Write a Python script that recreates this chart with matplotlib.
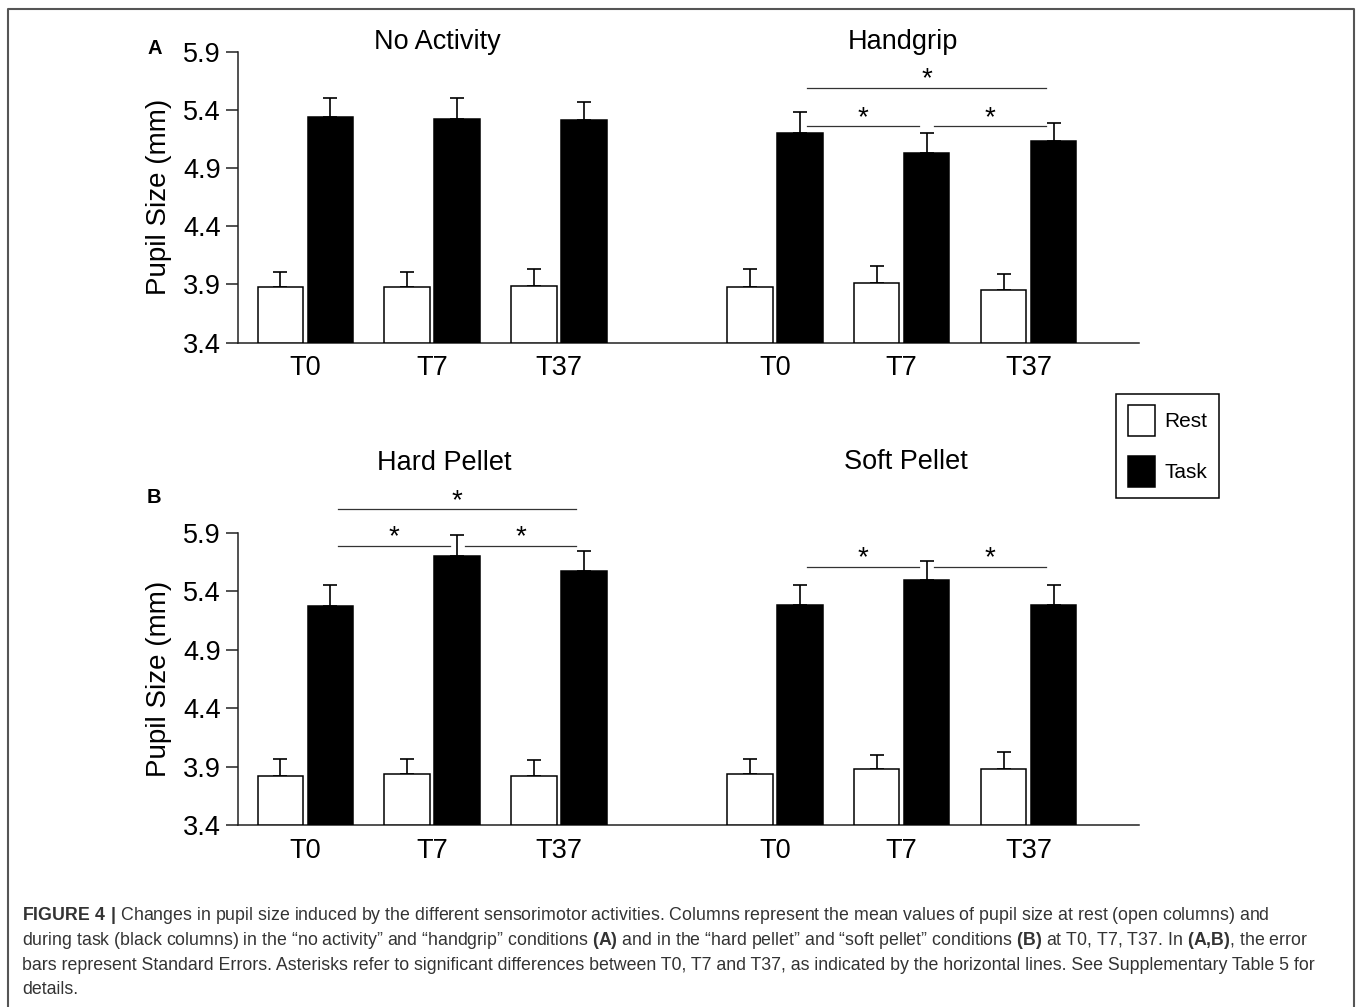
import numpy as np
import matplotlib
matplotlib.use('Agg')
from matplotlib import pyplot as plt
from matplotlib.patches import Patch
from matplotlib.lines import Line2D
from matplotlib.font_manager import FontProperties

plt.rcParams['font.family'] = ['Liberation Sans', 'DejaVu Sans']
plt.rcParams['mathtext.fontset'] = 'custom'
plt.rcParams['mathtext.rm'] = 'Liberation Sans'
plt.rcParams['mathtext.bf'] = 'Liberation Sans:bold'

times = ['T0', 'T7', 'T37']
yticks = [3.4, 3.9, 4.4, 4.9, 5.4, 5.9]

# panel A
noact_rest = [3.88, 3.88, 3.89]
noact_rest_se = [0.13, 0.13, 0.14]
noact_task = [5.34, 5.32, 5.31]
noact_task_se = [0.16, 0.18, 0.16]
hand_rest = [3.88, 3.91, 3.85]
hand_rest_se = [0.15, 0.15, 0.14]
hand_task = [5.20, 5.03, 5.13]
hand_task_se = [0.18, 0.17, 0.16]

# panel B
hard_rest = [3.82, 3.84, 3.82]
hard_rest_se = [0.15, 0.13, 0.14]
hard_task = [5.27, 5.70, 5.57]
hard_task_se = [0.18, 0.18, 0.17]
soft_rest = [3.84, 3.88, 3.88]
soft_rest_se = [0.13, 0.12, 0.15]
soft_task = [5.28, 5.50, 5.28]
soft_task_se = [0.17, 0.16, 0.17]

# significant differences: (from time, to time, line height)
hand_sig = [(0, 2, 5.59), (0, 1, 5.26), (1, 2, 5.26)]
hard_sig = [(0, 2, 6.10), (0, 1, 5.79), (1, 2, 5.79)]
soft_sig = [(0, 1, 5.61), (1, 2, 5.61)]

caption = [
    r'$\bf{FIGURE\ 4\ |}$ Changes in pupil size induced by the different sensorimotor activities. Columns represent the mean values of pupil size at rest (open columns) and',
    r'during task (black columns) in the “no activity” and “handgrip” conditions $\bf{(A)}$ and in the “hard pellet” and “soft pellet” conditions $\bf{(B)}$ at T0, T7, T37. In $\bf{(A{,}B)}$, the error',
    r'bars represent Standard Errors. Asterisks refer to significant differences between T0, T7 and T37, as indicated by the horizontal lines. See Supplementary Table 5 for',
    r'details.',
]

W, H = 1357, 1007
fig = plt.figure(figsize=(W / 100, H / 100), dpi=100)

bw = 0.358
off = 0.197
bases = [0.0, 3.7]


def draw_group(ax, base, rest, rest_se, task, task_se):
    x = np.arange(3) + base
    ax.errorbar(x - off, rest, yerr=[np.zeros(3), rest_se], fmt='none', ecolor='black',
                elinewidth=1.2, capsize=4.8, capthick=1.2, zorder=2)
    ax.errorbar(x + off, task, yerr=[np.zeros(3), task_se], fmt='none', ecolor='black',
                elinewidth=1.2, capsize=4.8, capthick=1.2, zorder=2)
    ax.bar(x - off, np.array(rest) - 3.4, bottom=3.4, width=bw, color='white',
           edgecolor='black', lw=1.1, zorder=3)
    ax.bar(x + off, np.array(task) - 3.4, bottom=3.4, width=bw, color='black',
           edgecolor='black', lw=1.1, zorder=3)


def draw_sig(ax, base, sigs):
    for i, j, h in sigs:
        x0 = base + i + off + 0.06
        x1 = base + j + off - 0.06
        ax.plot([x0, x1], [h, h], color='#333333', lw=0.9, clip_on=False)
        ax.text((x0 + x1) / 2, h + 0.012, '*', ha='center', va='baseline',
                fontsize=20, clip_on=False)


def setup(ax):
    ax.set_xlim(-0.53, 6.57)
    ax.set_ylim(3.4, 5.9)
    ax.set_yticks(yticks)
    ax.set_yticklabels(['%.1f' % t for t in yticks])
    ax.set_xticks(list(np.arange(3) + bases[0]) + list(np.arange(3) + bases[1]))
    ax.set_xticklabels(times + times)
    for s in ['top', 'right']:
        ax.spines[s].set_visible(False)
    for s in ['left', 'bottom']:
        ax.spines[s].set_linewidth(1.1)
        ax.spines[s].set_color('#222222')
    ax.tick_params(axis='y', length=8.6, width=1.1, pad=4, labelsize=19.5, color='#222222')
    ax.tick_params(axis='x', length=0, pad=9, labelsize=19.5)
    ax.set_ylabel('Pupil Size (mm)', fontsize=20)
    ax.yaxis.set_label_coords(-0.073, 0.5)


axA = fig.add_axes([238 / W, 1 - 342.7 / H, 901 / W, 291 / H])
axB = fig.add_axes([238 / W, 1 - 825.3 / H, 901 / W, 292.6 / H])

draw_group(axA, bases[0], noact_rest, noact_rest_se, noact_task, noact_task_se)
draw_group(axA, bases[1], hand_rest, hand_rest_se, hand_task, hand_task_se)
draw_sig(axA, bases[1], hand_sig)
setup(axA)
axA.text(1.045, 1.034, 'No Activity', transform=axA.get_xaxis_transform(),
         ha='center', va='center', fontsize=19.5)
axA.text(4.706, 1.034, 'Handgrip', transform=axA.get_xaxis_transform(),
         ha='center', va='center', fontsize=19.5)

draw_group(axB, bases[0], hard_rest, hard_rest_se, hard_task, hard_task_se)
draw_group(axB, bases[1], soft_rest, soft_rest_se, soft_task, soft_task_se)
draw_sig(axB, bases[0], hard_sig)
draw_sig(axB, bases[1], soft_sig)
setup(axB)
axB.text(1.097, 1.238, 'Hard Pellet', transform=axB.get_xaxis_transform(),
         ha='center', va='center', fontsize=19.5)
axB.text(4.735, 1.243, 'Soft Pellet', transform=axB.get_xaxis_transform(),
         ha='center', va='center', fontsize=19.5)

fig.text(155 / W, 1 - 48 / H, 'A', weight='bold', fontsize=14.5, ha='center', va='center')
fig.text(154 / W, 1 - 498 / H, 'B', weight='bold', fontsize=14.5, ha='center', va='center')

handles = [Patch(facecolor='white', edgecolor='black', lw=1.1),
           Patch(facecolor='black', edgecolor='black', lw=1.1)]
leg = fig.legend(handles, ['Rest', 'Task'], loc='upper left',
                 bbox_to_anchor=(1116.4 / W, 1 - 394 / H), borderaxespad=0,
                 frameon=True, fancybox=False, edgecolor='black', framealpha=1,
                 prop=FontProperties(family=['Liberation Sans Narrow', 'Liberation Sans'], size=15),
                 handlelength=1.3, handleheight=1.85, handletextpad=0.45,
                 labelspacing=1.0, borderpad=0.55)
leg.get_frame().set_linewidth(1.1)

# frame around the figure area
fig.add_artist(Line2D([8 / W, 8 / W, 1354 / W, 1354 / W], [0, 1 - 9 / H, 1 - 9 / H, 0],
                      transform=fig.transFigure, color='#555555', lw=1.5))

for k, line in enumerate(caption):
    fig.text(22 / W, 1 - (916 + 24.5 * k) / H, line, ha='left', va='center',
             fontsize=12.8, color='#333333')

fig.savefig('out.png', dpi=100)
